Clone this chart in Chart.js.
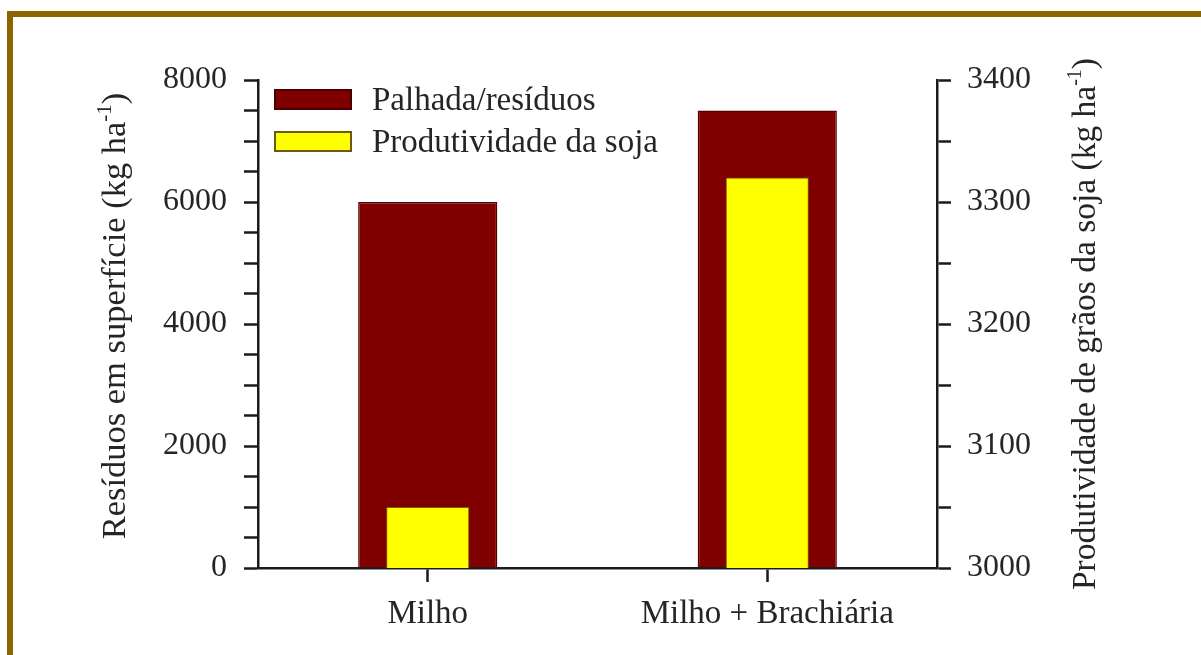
<!DOCTYPE html>
<html>
<head>
<meta charset="utf-8">
<script src="https://cdn.jsdelivr.net/npm/chart.js@4/dist/chart.umd.min.js"></script>
<style>
  html, body { margin: 0; padding: 0; background: #ffffff; overflow: hidden; }
  #wrap { position: relative; width: 1201px; height: 655px; }
  #chart { position: absolute; left: 0; top: 0; }
  .frame { position: absolute; background: #8b6500; }
</style>
</head>
<body>
<div id="wrap">
  <canvas id="chart" width="1201" height="655"></canvas>
  <div class="frame" style="left:7px;top:11px;width:1194px;height:6px"></div>
  <div class="frame" style="left:7px;top:11px;width:6px;height:644px"></div>
</div>
<script>
// Categories and series
const categories = ['Milho', 'Milho + Brachiária'];
const palhadaValues = [6000, 7500];   // kg/ha, left axis
const sojaValues = [3050, 3320];      // kg/ha, right axis
const seriesNames = ['Palhada/resíduos', 'Produtividade da soja'];

// Axis ranges and tick steps
const leftRange = [0, 8000];
const leftStep = 500;
const leftLabelStep = 2000;
const rightRange = [3000, 3400];
const rightStep = 50;
const rightLabelStep = 100;

// Axis titles: text, superscript, closing text
const leftTitle = ['Resíduos em superfície (kg ha', '-1', ')'];
const rightTitle = ['Produtividade de grãos da soja (kg ha', '-1', ')'];

const FAMILY = '"Liberation Serif", "Times New Roman", serif';
const TEXT = '#252525';
const AXIS = '#1a1a1a';

function drawRotatedTitle(ctx, parts, x, cy, size) {
  const main = size + 'px ' + FAMILY;
  const sup = Math.round(size * 0.6) + 'px ' + FAMILY;
  ctx.save();
  ctx.translate(x, cy);
  ctx.rotate(-Math.PI / 2);
  ctx.fillStyle = TEXT;
  ctx.textAlign = 'left';
  ctx.textBaseline = 'alphabetic';
  ctx.font = main;
  const w0 = ctx.measureText(parts[0]).width;
  const w2 = ctx.measureText(parts[2]).width;
  ctx.font = sup;
  const w1 = ctx.measureText(parts[1]).width;
  let px = -(w0 + w1 + w2) / 2;
  ctx.font = main; ctx.fillText(parts[0], px, 0); px += w0;
  ctx.font = sup; ctx.fillText(parts[1], px, -size * 0.42); px += w1;
  ctx.font = main; ctx.fillText(parts[2], px, 0);
  ctx.restore();
}

// Axis titles and the in-plot legend
const decorations = {
  id: 'decorations',
  afterDraw(chart) {
    const ctx = chart.ctx;
    const area = chart.chartArea;
    drawRotatedTitle(ctx, leftTitle, area.left - 133, (area.top + area.bottom) / 2 - 8, 34.5);
    drawRotatedTitle(ctx, rightTitle, area.right + 158, (area.top + area.bottom) / 2, 33.5);

    const boxX = area.left + 16, boxW = 78, boxH = 21;
    const rows = [area.top + 9, area.top + 51];
    chart.data.datasets.forEach((ds, i) => {
      const y = rows[i];
      ctx.save();
      ctx.fillStyle = ds.backgroundColor;
      ctx.fillRect(boxX, y, boxW, boxH);
      ctx.lineWidth = 2;
      ctx.strokeStyle = ds.legendBorder;
      ctx.strokeRect(boxX + 1, y + 1, boxW - 2, boxH - 2);
      ctx.fillStyle = TEXT;
      ctx.font = '33px ' + FAMILY;
      ctx.textAlign = 'left';
      ctx.textBaseline = 'alphabetic';
      ctx.fillText(ds.label, boxX + 98, y + 21);
      ctx.restore();
    });
  }
};

new Chart(document.getElementById('chart'), {
  type: 'bar',
  data: {
    labels: categories,
    datasets: [
      {
        label: seriesNames[0],
        data: palhadaValues,
        yAxisID: 'y',
        backgroundColor: '#800000',
        borderColor: '#520000',
        borderWidth: 1.5,
        legendBorder: '#4a0000',
        grouped: false,
        order: 2,
        barPercentage: 0.41,
        categoryPercentage: 1
      },
      {
        label: seriesNames[1],
        data: sojaValues,
        yAxisID: 'y1',
        backgroundColor: '#ffff00',
        borderColor: '#7a6000',
        borderWidth: 1,
        legendBorder: '#6b5a10',
        grouped: false,
        order: 1,
        barPercentage: 0.245,
        categoryPercentage: 1
      }
    ]
  },
  options: {
    responsive: false,
    devicePixelRatio: 1,
    animation: false,
    layout: { padding: { left: 0, right: 0, top: 80, bottom: 0 } },
    plugins: { legend: { display: false }, tooltip: { enabled: false } },
    scales: {
      x: {
        type: 'category',
        offset: true,
        border: { display: true, color: AXIS, width: 2.5 },
        grid: { display: true, drawOnChartArea: false, drawTicks: true, offset: false,
                tickLength: 14, tickWidth: 2.5, tickColor: AXIS },
        ticks: { color: TEXT, font: { family: FAMILY, size: 33 }, padding: 13, autoSkip: false, maxRotation: 0 },
        afterFit(scale) { scale.height = 655 - 568; }
      },
      y: {
        position: 'left',
        min: leftRange[0],
        max: leftRange[1],
        border: { display: true, color: AXIS, width: 2.5 },
        grid: { display: true, drawOnChartArea: false, drawTicks: true,
                tickLength: 14, tickWidth: 2.5, tickColor: AXIS },
        ticks: {
          stepSize: leftStep,
          autoSkip: false,
          color: TEXT,
          font: { family: FAMILY, size: 32 },
          padding: 17,
          callback: v => (v % leftLabelStep === 0 ? String(v) : '')
        },
        afterFit(scale) { scale.width = 258; }
      },
      y1: {
        position: 'right',
        min: rightRange[0],
        max: rightRange[1],
        border: { display: true, color: AXIS, width: 2.5 },
        grid: { display: true, drawOnChartArea: false, drawTicks: true,
                tickLength: 14, tickWidth: 2.5, tickColor: AXIS },
        ticks: {
          stepSize: rightStep,
          autoSkip: false,
          color: TEXT,
          font: { family: FAMILY, size: 32 },
          padding: 16,
          callback: v => (v % rightLabelStep === 0 ? String(v) : '')
        },
        afterFit(scale) { scale.width = 1201 - 937; }
      }
    }
  },
  plugins: [decorations]
});
</script>
</body>
</html>
